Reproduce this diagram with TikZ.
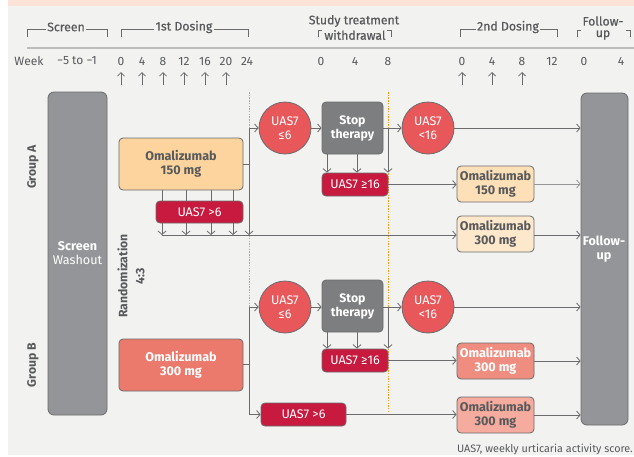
\documentclass[tikz,border=0pt]{standalone}
\usepackage{fontspec}
\setmainfont{Fira Sans}
\newfontfamily\semib[FakeBold=0.6]{Fira Sans}
\usetikzlibrary{arrows.meta}
\definecolor{bg}{HTML}{F2F2F1}
\definecolor{band}{HTML}{FBE3D8}
\definecolor{txt}{HTML}{58595B}
\definecolor{ln}{HTML}{6B6B6D}
\definecolor{hline}{HTML}{BDBDBD}
\definecolor{bigbox}{HTML}{939598}
\definecolor{stopc}{HTML}{7D7E80}
\definecolor{crim}{HTML}{C8193F}
\definecolor{coral}{HTML}{E8575A}
\definecolor{oA}{HTML}{FDD49E}
\definecolor{oAb}{HTML}{FDDFB8}
\definecolor{oAc}{HTML}{FEE8CC}
\definecolor{oB}{HTML}{EB7A6D}
\definecolor{oBb}{HTML}{EF8E80}
\definecolor{oBc}{HTML}{F5AB9E}
\definecolor{orng}{HTML}{F39C1E}
\tikzset{
  conn/.style={draw=ln, line width=0.8pt},
  arr/.style={conn, -{Straight Barb[length=3.5pt,width=8pt]}},
  hdr/.style={text=txt, font=\semib\fontsize{12.3}{13}\selectfont, inner sep=1pt},
  wk/.style={text=txt, font=\fontsize{12}{13}\selectfont, inner sep=0pt},
  brk/.style={draw=ln, line width=0.8pt},
  boxbase/.style={draw=ln, line width=0.8pt, rounded corners=4pt, align=center, inner sep=0pt},
  omal/.style={boxbase, text=txt, font=\bfseries\fontsize{12.6}{14}\selectfont},
  omalw/.style={boxbase, text=white, font=\bfseries\fontsize{12.6}{14}\selectfont},
  uas/.style={boxbase, fill=crim, text=white, font=\fontsize{12.6}{13}\selectfont},
  circ/.style={circle, draw=ln, line width=0.8pt, fill=coral, text=white, minimum size=52pt, inner sep=0pt, align=center, font=\fontsize{12.6}{14}\selectfont},
  stopbox/.style={boxbase, fill=stopc, text=white, minimum width=61pt, minimum height=52pt, font=\bfseries\fontsize{12.3}{14}\selectfont},
  big/.style={draw=ln, line width=0.8pt, fill=bigbox, rounded corners=6pt, align=center, inner sep=0pt, text=white},
  grp/.style={text=txt, font=\bfseries\fontsize{12.2}{15}\selectfont, rotate=90, align=center},
  dashor/.style={draw=orng, line width=0.9pt, dash pattern=on 1.5pt off 1.2pt},
}
\begin{document}
\begin{tikzpicture}[x=1pt,y=-1pt]
\useasboundingbox (0,0) rectangle (634,456);
\fill[bg] (8,0) rectangle (634,455);
\fill[band] (8,0) rectangle (634,6);

% header
\draw[hline, line width=2pt] (27,48) -- (634,48);
\node[hdr] (hscr) at (66,27) {Screen};
\draw[brk] (27,37) -- (27,29) -- (hscr.west |- 0,29);
\draw[brk] (hscr.east |- 0,29) -- (107,29) -- (107,37);
\node[hdr] (hd1) at (184,27) {1st Dosing};
\draw[brk] (121,37) -- (121,29) -- (hd1.west |- 0,29);
\draw[brk] (hd1.east |- 0,29) -- (248,29) -- (248,37);
\node[hdr] (hst) at (354,21) {Study treatment};
\node[hdr] (hwd) at (355,35) {withdrawal};
\draw[brk] (318,37) -- (318,30) -- (322,30);
\draw[brk] (387,30) -- (391,30) -- (391,37);
\node[hdr] (hd2) at (508,27) {2nd Dosing};
\draw[brk] (460,37) -- (460,29) -- (hd2.west |- 0,29);
\draw[brk] (hd2.east |- 0,29) -- (557,29) -- (557,37);
\node[hdr] (hfu) at (603,21) {Follow-};
\node[hdr] (hup) at (603,35) {up};
\draw[brk] (577,37) -- (577,30) -- (581,30);
\draw[brk] (626,30) -- (630,30) -- (630,37);

% week row
\node[wk] (wk) at (29,61) {Week};
\node[wk] (wscr) at (77,61) {−5 to −1};
\foreach \x/\t in {121/0,142/4,163/8,184/12,205/16,226/20,247/24,321/0,355/4,388/8,462/0,492/4,522/8,552/12,584/0,621/4}
  \node[wk] (w\x) at (\x,61) {\t};
\foreach \x in {121,142,163,184,205,226,462,492,522}
  \draw[conn, -{Straight Barb[length=3.5pt,width=7pt]}] (\x,85) -- (\x,72);

% orange dashed
\draw[dashor] (249,92) -- (249,413);
\draw[dashor] (388,92) -- (388,413);

% big boxes
\node[big, minimum width=59pt, minimum height=323pt] (scr) at (77.5,253.5) {};
\node[text=white, align=center, font=\fontsize{12.6}{14}\selectfont] (scrt) at (scr.center) {\textbf{Screen}\\Washout};
\node[big, minimum width=47pt, minimum height=332pt] (fu) at (604.5,259) {};
\node[text=white, align=center, font=\bfseries\fontsize{12.6}{14}\selectfont] (fut) at (604,249) {Follow-\\up};

% labels
\node[grp] (ga) at (33,167) {Group A};
\node[grp] (gb) at (33,365) {Group B};
\node[grp] (rnd) at (131,276) {Randomization\\[2pt]4:3};

% Group A
\node[omal, fill=oA, minimum width=124pt, minimum height=52pt] (oa1) at (181,164) {Omalizumab\\150 mg};
\node[uas, minimum width=87pt, minimum height=22pt] (ua6) at (199.5,212) {UAS7 >6};
\node[circ] (ca1) at (285,128) {UAS7\\≤6};
\node[stopbox] (sa) at (352.5,128) {Stop\\therapy};
\node[circ] (ca2) at (428,128) {UAS7\\<16};
\node[uas, minimum width=66pt, minimum height=23pt] (ua16) at (355,184.5) {UAS7 ≥16};
\node[omal, fill=oAb, minimum width=77pt, minimum height=36pt] (oa2) at (495.5,184) {Omalizumab\\150 mg};
\node[omal, fill=oAc, minimum width=77pt, minimum height=36pt] (oa3) at (495.5,234) {Omalizumab\\300 mg};

\coordinate (ja) at (249,164);
\coordinate (jab) at (249,235);
\coordinate (jas) at (388,128);
\draw[conn] (oa1.east |- ja) -- (ja);
\draw[arr] (ja) |- (ca1.west);
\draw[arr] (ja) -- (jab);
\foreach \x in {162,186,211,233} {
  \draw[conn] (oa1.south -| \x,0) -- (ua6.north -| \x,0);
  \draw[arr] (ua6.south -| \x,0) -- (\x,235);
}
\draw[arr] (162,235) -- (oa3.west |- 0,235);
\draw[arr] (ca1.east) -- (sa.west);
\draw[conn] (sa.east) -- (jas);
\draw[arr] (jas) -- (ca2.west);
\draw[arr] (jas) -- (jas |- ua16.north);
\foreach \x in {327,357} \draw[arr] (sa.south -| \x,0) -- (ua16.north -| \x,0);
\draw[arr] (ua16.east) -- (oa2.west |- ua16.east);
\draw[arr] (ca2.east) -- (fu.west |- ca2.east);
\draw[arr, draw=ln!70] (oa2.east) -- (fu.west |- oa2.east);
\draw[arr] (oa3.east |- 0,235) -- (fu.west |- 0,235);

% Group B
\node[omalw, fill=oB, minimum width=124pt, minimum height=52pt] (ob1) at (181,365) {Omalizumab\\300 mg};
\node[circ] (cb1) at (285,307) {UAS7\\≤6};
\node[stopbox] (sb) at (352.5,306) {Stop\\therapy};
\node[circ] (cb2) at (428,307) {UAS7\\<16};
\node[uas, minimum width=66pt, minimum height=23pt] (ub16) at (355,360.5) {UAS7 ≥16};
\node[uas, minimum width=85pt, minimum height=23pt] (ub6) at (303.5,414.5) {UAS7 >6};
\node[omalw, fill=oBb, minimum width=77pt, minimum height=36pt] (ob2) at (495.5,361) {Omalizumab\\300 mg};
\node[omal, fill=oBc, minimum width=77pt, minimum height=36pt] (ob3) at (495.5,415) {Omalizumab\\300 mg};

\coordinate (jb) at (249,364);
\coordinate (jbs) at (388,307);
\draw[conn] (ob1.east |- jb) -- (jb);
\draw[arr] (jb) |- (cb1.west);
\draw[arr] (jb) |- (ub6.west);
\draw[arr] (cb1.east) -- (sb.west |- cb1.east);
\draw[conn] (sb.east |- jbs) -- (jbs);
\draw[arr] (jbs) -- (cb2.west);
\draw[arr] (jbs) -- (jbs |- ub16.north);
\foreach \x in {327,357} \draw[arr] (sb.south -| \x,0) -- (ub16.north -| \x,0);
\draw[arr] (ub16.east) -- (ob2.west |- ub16.east);
\draw[arr] (ub6.east) -- (ob3.west |- ub6.east);
\draw[arr] (cb2.east) -- (fu.west |- cb2.east);
\draw[arr] (ob2.east) -- (fu.west |- ob2.east);
\draw[arr] (ob3.east) -- (fu.west |- ob3.east);

% footnote
\node[anchor=east, text=txt, font=\fontsize{10.8}{12}\selectfont, inner sep=0pt] (foot) at (633,449) {UAS7, weekly urticaria activity score.};
\end{tikzpicture}
\end{document}
